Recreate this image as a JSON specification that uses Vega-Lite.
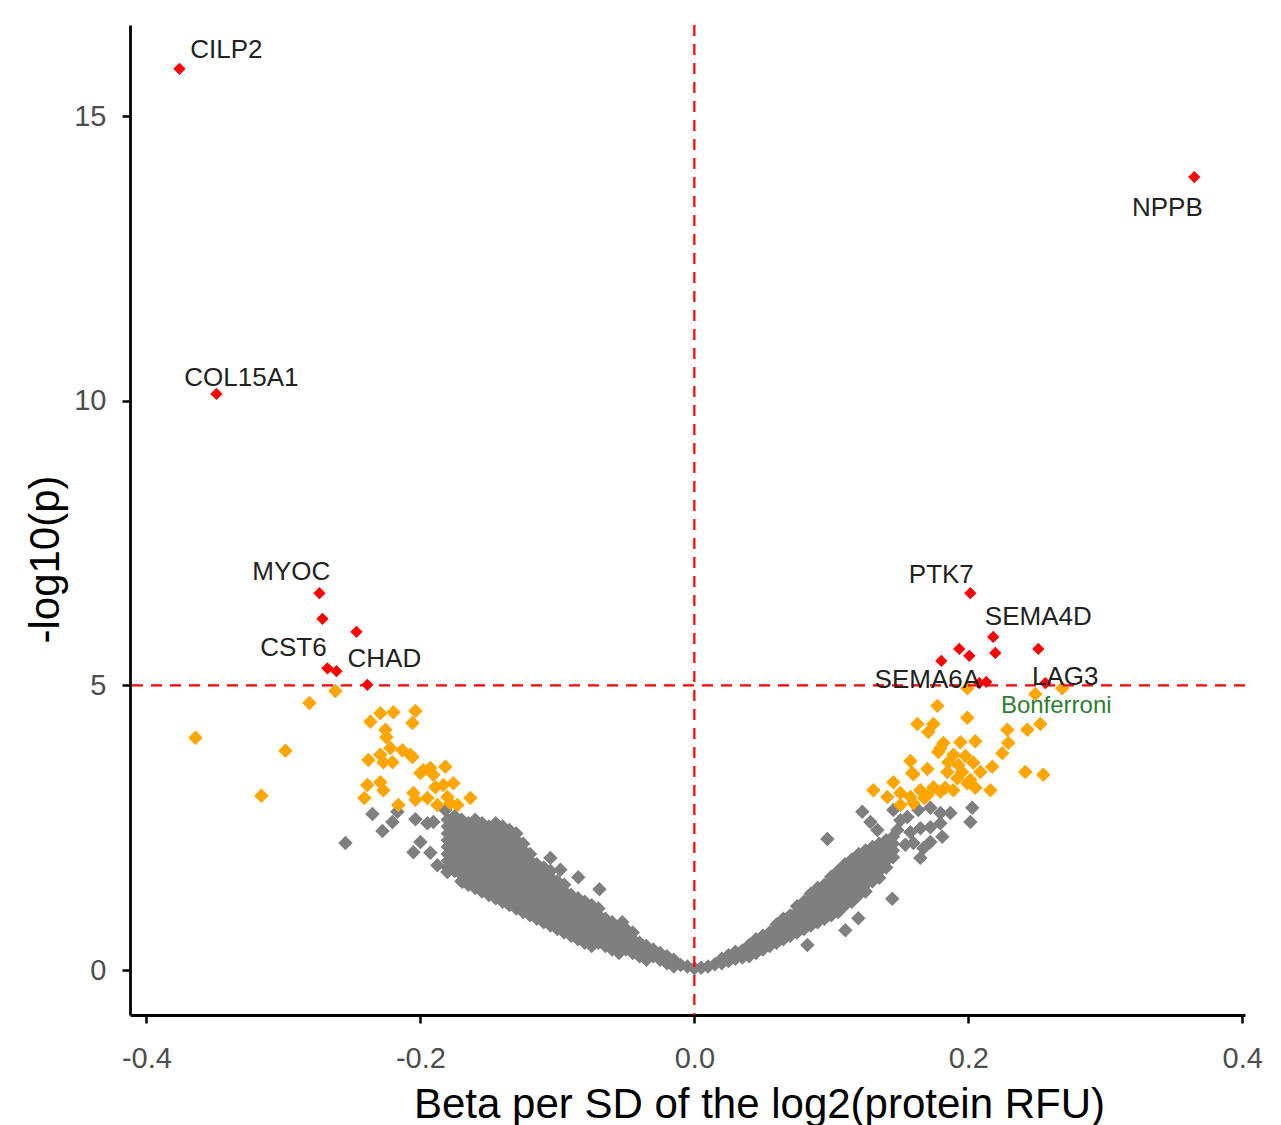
{
"$schema": "https://vega.github.io/schema/vega-lite/v6.json",
"width": 1115, "height": 990,
"autosize": {"type": "none"},
"padding": {"left": 130, "top": 25, "right": 36, "bottom": 110},
"background": "white",
"config": {
 "view": {"stroke": null},
 "font": "Liberation Sans",
 "axis": {"grid": false, "domainColor": "black", "domainWidth": 2.8, "tickColor": "black", "tickWidth": 2.5, "tickSize": 8, "labelColor": "#4d4d4d", "labelFontSize": 29, "labelFont": "Liberation Sans", "titleFont": "Liberation Sans", "titleFontSize": 42, "titleFontWeight": "normal", "titleColor": "black"},
 "axisX": {"labelPadding": 21, "titleX": 629, "titleY": 89, "titleAlign": "center", "titleBaseline": "middle"},
 "axisY": {"labelPadding": 16, "titleX": -85, "titleY": 534, "titleAlign": "center", "titleBaseline": "middle", "titleAngle": -90}
},
"datasets": {
 "grey": [
  {"b":-0.2547,"p":2.23},{"b":-0.235,"p":2.74},{"b":-0.2277,"p":2.44},{"b":-0.2204,"p":2.6},{"b":-0.2168,"p":2.78},{"b":-0.2036,"p":2.65},{"b":-0.2,"p":2.25},{"b":-0.2051,"p":2.07},{"b":-0.1927,"p":2.06},{"b":-0.1876,"p":1.84},{"b":-0.1803,"p":1.72},{"b":-0.1693,"p":1.55},{"b":-0.1949,"p":2.58},{"b":-0.1905,"p":2.6},{"b":-0.1818,"p":2.81},{"b":-0.1051,"p":1.97},{"b":-0.0978,"p":1.76},{"b":-0.0847,"p":1.63},{"b":-0.0693,"p":1.42},{"b":-0.0526,"p":0.84},
  {"b":-0.18,"p":1.8},{"b":-0.18,"p":1.92},{"b":-0.18,"p":2.04},{"b":-0.18,"p":2.16},{"b":-0.18,"p":2.28},{"b":-0.18,"p":2.4},{"b":-0.18,"p":2.52},{"b":-0.18,"p":2.64},
  {"b":-0.175,"p":1.74},{"b":-0.175,"p":1.86},{"b":-0.175,"p":1.98},{"b":-0.175,"p":2.1},{"b":-0.175,"p":2.22},{"b":-0.175,"p":2.34},{"b":-0.175,"p":2.46},{"b":-0.175,"p":2.58},{"b":-0.175,"p":2.7},
  {"b":-0.17,"p":1.56},{"b":-0.17,"p":1.68},{"b":-0.17,"p":1.8},{"b":-0.17,"p":1.92},{"b":-0.17,"p":2.04},{"b":-0.17,"p":2.16},{"b":-0.17,"p":2.28},{"b":-0.17,"p":2.4},{"b":-0.17,"p":2.52},{"b":-0.17,"p":2.64},
  {"b":-0.165,"p":1.5},{"b":-0.165,"p":1.62},{"b":-0.165,"p":1.74},{"b":-0.165,"p":1.86},{"b":-0.165,"p":1.98},{"b":-0.165,"p":2.1},{"b":-0.165,"p":2.22},{"b":-0.165,"p":2.34},{"b":-0.165,"p":2.46},{"b":-0.165,"p":2.58},
  {"b":-0.16,"p":1.44},{"b":-0.16,"p":1.56},{"b":-0.16,"p":1.68},{"b":-0.16,"p":1.8},{"b":-0.16,"p":1.92},{"b":-0.16,"p":2.04},{"b":-0.16,"p":2.16},{"b":-0.16,"p":2.28},{"b":-0.16,"p":2.4},{"b":-0.16,"p":2.52},{"b":-0.16,"p":2.64},
  {"b":-0.155,"p":1.38},{"b":-0.155,"p":1.5},{"b":-0.155,"p":1.62},{"b":-0.155,"p":1.74},{"b":-0.155,"p":1.86},{"b":-0.155,"p":1.98},{"b":-0.155,"p":2.1},{"b":-0.155,"p":2.22},{"b":-0.155,"p":2.34},{"b":-0.155,"p":2.46},{"b":-0.155,"p":2.58},
  {"b":-0.15,"p":1.32},{"b":-0.15,"p":1.44},{"b":-0.15,"p":1.56},{"b":-0.15,"p":1.68},{"b":-0.15,"p":1.8},{"b":-0.15,"p":1.92},{"b":-0.15,"p":2.04},{"b":-0.15,"p":2.16},{"b":-0.15,"p":2.28},{"b":-0.15,"p":2.4},{"b":-0.15,"p":2.52},
  {"b":-0.145,"p":1.26},{"b":-0.145,"p":1.38},{"b":-0.145,"p":1.5},{"b":-0.145,"p":1.62},{"b":-0.145,"p":1.74},{"b":-0.145,"p":1.86},{"b":-0.145,"p":1.98},{"b":-0.145,"p":2.1},{"b":-0.145,"p":2.22},{"b":-0.145,"p":2.34},{"b":-0.145,"p":2.46},{"b":-0.145,"p":2.58},
  {"b":-0.14,"p":1.2},{"b":-0.14,"p":1.32},{"b":-0.14,"p":1.44},{"b":-0.14,"p":1.56},{"b":-0.14,"p":1.68},{"b":-0.14,"p":1.8},{"b":-0.14,"p":1.92},{"b":-0.14,"p":2.04},{"b":-0.14,"p":2.16},{"b":-0.14,"p":2.28},{"b":-0.14,"p":2.4},{"b":-0.14,"p":2.52},
  {"b":-0.135,"p":1.14},{"b":-0.135,"p":1.26},{"b":-0.135,"p":1.38},{"b":-0.135,"p":1.5},{"b":-0.135,"p":1.62},{"b":-0.135,"p":1.74},{"b":-0.135,"p":1.86},{"b":-0.135,"p":1.98},{"b":-0.135,"p":2.1},{"b":-0.135,"p":2.22},{"b":-0.135,"p":2.34},{"b":-0.135,"p":2.46},
  {"b":-0.13,"p":1.08},{"b":-0.13,"p":1.2},{"b":-0.13,"p":1.32},{"b":-0.13,"p":1.44},{"b":-0.13,"p":1.56},{"b":-0.13,"p":1.68},{"b":-0.13,"p":1.8},{"b":-0.13,"p":1.92},{"b":-0.13,"p":2.04},{"b":-0.13,"p":2.16},{"b":-0.13,"p":2.28},{"b":-0.13,"p":2.4},
  {"b":-0.125,"p":1.02},{"b":-0.125,"p":1.14},{"b":-0.125,"p":1.26},{"b":-0.125,"p":1.38},{"b":-0.125,"p":1.5},{"b":-0.125,"p":1.62},{"b":-0.125,"p":1.74},{"b":-0.125,"p":1.86},{"b":-0.125,"p":1.98},{"b":-0.125,"p":2.1},{"b":-0.125,"p":2.22},
  {"b":-0.12,"p":0.96},{"b":-0.12,"p":1.08},{"b":-0.12,"p":1.2},{"b":-0.12,"p":1.32},{"b":-0.12,"p":1.44},{"b":-0.12,"p":1.56},{"b":-0.12,"p":1.68},{"b":-0.12,"p":1.8},{"b":-0.12,"p":1.92},{"b":-0.12,"p":2.04},
  {"b":-0.115,"p":0.9},{"b":-0.115,"p":1.02},{"b":-0.115,"p":1.14},{"b":-0.115,"p":1.26},{"b":-0.115,"p":1.38},{"b":-0.115,"p":1.5},{"b":-0.115,"p":1.62},{"b":-0.115,"p":1.74},{"b":-0.115,"p":1.86},
  {"b":-0.11,"p":0.84},{"b":-0.11,"p":0.96},{"b":-0.11,"p":1.08},{"b":-0.11,"p":1.2},{"b":-0.11,"p":1.32},{"b":-0.11,"p":1.44},{"b":-0.11,"p":1.56},{"b":-0.11,"p":1.68},{"b":-0.11,"p":1.8},
  {"b":-0.105,"p":0.78},{"b":-0.105,"p":0.9},{"b":-0.105,"p":1.02},{"b":-0.105,"p":1.14},{"b":-0.105,"p":1.26},{"b":-0.105,"p":1.38},{"b":-0.105,"p":1.5},{"b":-0.105,"p":1.62},{"b":-0.105,"p":1.74},
  {"b":-0.1,"p":0.72},{"b":-0.1,"p":0.84},{"b":-0.1,"p":0.96},{"b":-0.1,"p":1.08},{"b":-0.1,"p":1.2},{"b":-0.1,"p":1.32},{"b":-0.1,"p":1.44},{"b":-0.1,"p":1.56},
  {"b":-0.095,"p":0.66},{"b":-0.095,"p":0.78},{"b":-0.095,"p":0.9},{"b":-0.095,"p":1.02},{"b":-0.095,"p":1.14},{"b":-0.095,"p":1.26},{"b":-0.095,"p":1.38},{"b":-0.095,"p":1.5},
  {"b":-0.09,"p":0.6},{"b":-0.09,"p":0.72},{"b":-0.09,"p":0.84},{"b":-0.09,"p":0.96},{"b":-0.09,"p":1.08},{"b":-0.09,"p":1.2},{"b":-0.09,"p":1.32},
  {"b":-0.085,"p":0.54},{"b":-0.085,"p":0.66},{"b":-0.085,"p":0.78},{"b":-0.085,"p":0.9},{"b":-0.085,"p":1.02},{"b":-0.085,"p":1.14},{"b":-0.085,"p":1.26},
  {"b":-0.08,"p":0.48},{"b":-0.08,"p":0.6},{"b":-0.08,"p":0.72},{"b":-0.08,"p":0.84},{"b":-0.08,"p":0.96},{"b":-0.08,"p":1.08},{"b":-0.08,"p":1.2},
  {"b":-0.075,"p":0.42},{"b":-0.075,"p":0.54},{"b":-0.075,"p":0.66},{"b":-0.075,"p":0.78},{"b":-0.075,"p":0.9},{"b":-0.075,"p":1.02},{"b":-0.075,"p":1.14},
  {"b":-0.07,"p":0.48},{"b":-0.07,"p":0.6},{"b":-0.07,"p":0.72},{"b":-0.07,"p":0.84},{"b":-0.07,"p":0.96},{"b":-0.07,"p":1.08},
  {"b":-0.065,"p":0.42},{"b":-0.065,"p":0.54},{"b":-0.065,"p":0.66},{"b":-0.065,"p":0.78},{"b":-0.065,"p":0.9},
  {"b":-0.06,"p":0.36},{"b":-0.06,"p":0.48},{"b":-0.06,"p":0.6},{"b":-0.06,"p":0.72},{"b":-0.06,"p":0.84},
  {"b":-0.055,"p":0.3},{"b":-0.055,"p":0.42},{"b":-0.055,"p":0.54},{"b":-0.055,"p":0.66},{"b":-0.055,"p":0.78},
  {"b":-0.05,"p":0.36},{"b":-0.05,"p":0.48},{"b":-0.05,"p":0.6},{"b":-0.05,"p":0.72},
  {"b":-0.045,"p":0.3},{"b":-0.045,"p":0.42},{"b":-0.045,"p":0.54},{"b":-0.045,"p":0.66},
  {"b":-0.04,"p":0.24},{"b":-0.04,"p":0.36},{"b":-0.04,"p":0.48},
  {"b":-0.035,"p":0.18},{"b":-0.035,"p":0.3},{"b":-0.035,"p":0.42},
  {"b":-0.03,"p":0.24},{"b":-0.03,"p":0.36},
  {"b":-0.025,"p":0.18},{"b":-0.025,"p":0.3},
  {"b":-0.02,"p":0.12},{"b":-0.02,"p":0.24},
  {"b":-0.015,"p":0.06},{"b":-0.015,"p":0.18},
  {"b":-0.01,"p":0.09},{"b":-0.005,"p":0.06},{"b":0,"p":0.03},
  {"b":0.005,"p":0.04},{"b":0.01,"p":0.06},{"b":0.015,"p":0.1},
  {"b":0.02,"p":0.12},{"b":0.02,"p":0.2},
  {"b":0.025,"p":0.16},{"b":0.025,"p":0.26},
  {"b":0.03,"p":0.2},{"b":0.03,"p":0.32},
  {"b":0.035,"p":0.22},{"b":0.035,"p":0.34},
  {"b":0.04,"p":0.24},{"b":0.04,"p":0.36},{"b":0.04,"p":0.44},
  {"b":0.045,"p":0.3},{"b":0.045,"p":0.42},{"b":0.045,"p":0.54},
  {"b":0.05,"p":0.36},{"b":0.05,"p":0.48},{"b":0.05,"p":0.6},
  {"b":0.055,"p":0.42},{"b":0.055,"p":0.54},{"b":0.055,"p":0.66},
  {"b":0.06,"p":0.48},{"b":0.06,"p":0.6},{"b":0.06,"p":0.72},{"b":0.06,"p":0.8},
  {"b":0.065,"p":0.54},{"b":0.065,"p":0.66},{"b":0.065,"p":0.78},{"b":0.065,"p":0.9},
  {"b":0.07,"p":0.6},{"b":0.07,"p":0.72},{"b":0.07,"p":0.84},{"b":0.07,"p":0.96},
  {"b":0.075,"p":0.66},{"b":0.075,"p":0.78},{"b":0.075,"p":0.9},{"b":0.075,"p":1.02},{"b":0.075,"p":1.12},
  {"b":0.08,"p":0.72},{"b":0.08,"p":0.84},{"b":0.08,"p":0.96},{"b":0.08,"p":1.08},{"b":0.08,"p":1.2},
  {"b":0.085,"p":0.78},{"b":0.085,"p":0.9},{"b":0.085,"p":1.02},{"b":0.085,"p":1.14},{"b":0.085,"p":1.26},{"b":0.085,"p":1.34},
  {"b":0.09,"p":0.84},{"b":0.09,"p":0.96},{"b":0.09,"p":1.08},{"b":0.09,"p":1.2},{"b":0.09,"p":1.32},{"b":0.09,"p":1.44},
  {"b":0.095,"p":0.9},{"b":0.095,"p":1.02},{"b":0.095,"p":1.14},{"b":0.095,"p":1.26},{"b":0.095,"p":1.38},{"b":0.095,"p":1.5},
  {"b":0.1,"p":0.96},{"b":0.1,"p":1.08},{"b":0.1,"p":1.2},{"b":0.1,"p":1.32},{"b":0.1,"p":1.44},{"b":0.1,"p":1.56},{"b":0.1,"p":1.64},
  {"b":0.105,"p":1.02},{"b":0.105,"p":1.14},{"b":0.105,"p":1.26},{"b":0.105,"p":1.38},{"b":0.105,"p":1.5},{"b":0.105,"p":1.62},{"b":0.105,"p":1.74},
  {"b":0.11,"p":1.14},{"b":0.11,"p":1.26},{"b":0.11,"p":1.38},{"b":0.11,"p":1.5},{"b":0.11,"p":1.62},{"b":0.11,"p":1.74},{"b":0.11,"p":1.86},
  {"b":0.115,"p":1.2},{"b":0.115,"p":1.32},{"b":0.115,"p":1.44},{"b":0.115,"p":1.56},{"b":0.115,"p":1.68},{"b":0.115,"p":1.8},{"b":0.115,"p":1.94},
  {"b":0.12,"p":1.32},{"b":0.12,"p":1.44},{"b":0.12,"p":1.56},{"b":0.12,"p":1.68},{"b":0.12,"p":1.8},{"b":0.12,"p":1.92},{"b":0.12,"p":2.04},
  {"b":0.125,"p":1.38},{"b":0.125,"p":1.5},{"b":0.125,"p":1.62},{"b":0.125,"p":1.74},{"b":0.125,"p":1.86},{"b":0.125,"p":1.98},{"b":0.125,"p":2.1},
  {"b":0.13,"p":1.56},{"b":0.13,"p":1.68},{"b":0.13,"p":1.8},{"b":0.13,"p":1.92},{"b":0.13,"p":2.04},{"b":0.13,"p":2.16},
  {"b":0.135,"p":1.62},{"b":0.135,"p":1.74},{"b":0.135,"p":1.86},{"b":0.135,"p":1.98},{"b":0.135,"p":2.1},{"b":0.135,"p":2.22},
  {"b":0.14,"p":1.8},{"b":0.14,"p":1.92},{"b":0.14,"p":2.04},{"b":0.14,"p":2.16},{"b":0.14,"p":2.28},
  {"b":0.145,"p":1.98},{"b":0.145,"p":2.1},{"b":0.145,"p":2.22},{"b":0.145,"p":2.34},
  {"b":0.1226,"p":2.78},{"b":0.1285,"p":2.6},{"b":0.1453,"p":2.81},{"b":0.1555,"p":2.69},{"b":0.1635,"p":2.81},{"b":0.1723,"p":2.85},{"b":0.1796,"p":2.76},{"b":0.1869,"p":2.76},{"b":0.2029,"p":2.85},{"b":0.2015,"p":2.6},{"b":0.1482,"p":2.46},{"b":0.1577,"p":2.42},{"b":0.165,"p":2.49},{"b":0.1723,"p":2.51},{"b":0.1796,"p":2.58},{"b":0.1599,"p":2.23},{"b":0.1723,"p":2.25},{"b":0.181,"p":2.34},{"b":0.1672,"p":2.14},{"b":0.165,"p":1.97},{"b":0.1336,"p":2.46},{"b":0.1504,"p":2.63},{"b":0.154,"p":2.2},{"b":0.1445,"p":1.25},{"b":0.1197,"p":0.91},{"b":0.1102,"p":0.7},{"b":0.0825,"p":0.44},{"b":0.0971,"p":2.3}
 ],
 "orange": [
  {"b":-0.3642,"p":4.08},{"b":-0.2985,"p":3.85},{"b":-0.3161,"p":3.06},{"b":-0.281,"p":4.69},{"b":-0.262,"p":4.9},
  {"b":-0.2365,"p":4.36},{"b":-0.2292,"p":4.51},{"b":-0.2197,"p":4.53},{"b":-0.2036,"p":4.55},{"b":-0.2058,"p":4.34},{"b":-0.2255,"p":4.22},{"b":-0.2248,"p":4.09},{"b":-0.2219,"p":3.9},{"b":-0.2131,"p":3.86},{"b":-0.2073,"p":3.78},{"b":-0.2292,"p":3.78},{"b":-0.238,"p":3.69},{"b":-0.227,"p":3.65},{"b":-0.2204,"p":3.65},{"b":-0.1978,"p":3.51},{"b":-0.1927,"p":3.55},{"b":-0.1818,"p":3.57},{"b":-0.2,"p":3.46},{"b":-0.1905,"p":3.43},{"b":-0.2387,"p":3.25},{"b":-0.2292,"p":3.3},{"b":-0.227,"p":3.16},{"b":-0.1759,"p":3.28},{"b":-0.1891,"p":3.21},{"b":-0.1832,"p":3.25},{"b":-0.2409,"p":3.02},{"b":-0.2051,"p":3.11},{"b":-0.2036,"p":2.99},{"b":-0.1949,"p":3.02},{"b":-0.1803,"p":3.04},{"b":-0.1781,"p":2.93},{"b":-0.1635,"p":3.02},{"b":-0.1876,"p":2.9},{"b":-0.173,"p":2.9},{"b":-0.2161,"p":2.9},{"b":-0.2058,"p":3.74},
  {"b":0.1993,"p":4.95},{"b":0.1774,"p":4.64},{"b":0.1993,"p":4.43},{"b":0.1628,"p":4.32},{"b":0.1745,"p":4.32},{"b":0.1708,"p":4.18},{"b":0.2285,"p":4.22},{"b":0.2431,"p":4.22},{"b":0.2526,"p":4.32},{"b":0.2489,"p":4.85},{"b":0.2686,"p":4.95},{"b":0.1818,"p":3.99},{"b":0.1942,"p":4.0},{"b":0.2051,"p":4.02},{"b":0.2292,"p":3.99},{"b":0.1781,"p":3.83},{"b":0.1891,"p":3.78},{"b":0.1978,"p":3.76},{"b":0.2248,"p":3.81},{"b":0.1577,"p":3.67},{"b":0.1854,"p":3.65},{"b":0.2036,"p":3.64},{"b":0.1701,"p":3.53},{"b":0.1599,"p":3.44},{"b":0.1847,"p":3.48},{"b":0.2088,"p":3.48},{"b":0.2175,"p":3.57},{"b":0.2416,"p":3.48},{"b":0.2547,"p":3.43},{"b":0.192,"p":3.37},{"b":0.1993,"p":3.28},{"b":0.1307,"p":3.16},{"b":0.1453,"p":3.3},{"b":0.1409,"p":3.04},{"b":0.1504,"p":3.11},{"b":0.1577,"p":3.04},{"b":0.165,"p":3.16},{"b":0.1745,"p":3.21},{"b":0.1832,"p":3.2},{"b":0.1891,"p":3.16},{"b":0.2051,"p":3.2},{"b":0.2161,"p":3.16},{"b":0.1504,"p":2.9},{"b":0.1599,"p":2.93},{"b":0.1591,"p":3.46},{"b":0.1679,"p":3.02},{"b":0.1796,"p":3.9},{"b":0.1927,"p":3.6},{"b":0.1956,"p":3.48},{"b":0.2015,"p":3.34},{"b":0.1701,"p":3.07},{"b":0.1796,"p":3.13}
 ],
 "red": [
  {"b":-0.3759,"p":15.83},{"b":-0.3489,"p":10.12},{"b":0.365,"p":13.93},{"b":-0.2737,"p":6.62},{"b":-0.2715,"p":6.17},{"b":-0.2467,"p":5.94},{"b":-0.2679,"p":5.3},{"b":-0.2613,"p":5.25},{"b":-0.2387,"p":5.01},
  {"b":0.2015,"p":6.62},{"b":0.2182,"p":5.85},{"b":0.2197,"p":5.57},{"b":0.1934,"p":5.64},{"b":0.2007,"p":5.52},{"b":0.1803,"p":5.43},{"b":0.2511,"p":5.64},{"b":0.208,"p":5.04},{"b":0.2131,"p":5.06},{"b":0.2562,"p":5.04}
 ],
 "labels": [
  {"b":-0.3416,"p":16.16,"t":"CILP2"},{"b":-0.3307,"p":10.4,"t":"COL15A1"},{"b":0.3453,"p":13.38,"t":"NPPB"},{"b":-0.2942,"p":6.99,"t":"MYOC"},{"b":-0.2927,"p":5.66,"t":"CST6"},{"b":-0.2263,"p":5.46,"t":"CHAD"},{"b":0.1803,"p":6.94,"t":"PTK7"},{"b":0.2511,"p":6.2,"t":"SEMA4D"},{"b":0.1701,"p":5.09,"t":"SEMA6A"},{"b":0.2708,"p":5.15,"t":"LAG3"}
 ],
 "bonf": [{"b":0.2642,"p":4.63,"t":"Bonferroni"}],
 "vline": [{"b":0}],
 "hline": [{"p":5}]
},
"layer": [
 {"data": {"name": "grey"}, "mark": {"type": "point", "shape": "diamond", "filled": true, "size": 210, "color": "#7f7f7f", "opacity": 1},
  "encoding": {
   "x": {"field": "b", "type": "quantitative", "title": "Beta per SD of the log2(protein RFU)", "scale": {"domain": [-0.412, 0.402], "nice": false, "zero": false}, "axis": {"values": [-0.4, -0.2, 0, 0.2, 0.4], "format": ".1f", "labelExpr": "replace(datum.label, '\u2212', '-')"}},
   "y": {"field": "p", "type": "quantitative", "title": "-log10(p)", "scale": {"domain": [-0.79, 16.6], "nice": false, "zero": false}, "axis": {"values": [0, 5, 10, 15], "format": "d"}}
  }},
 {"data": {"name": "orange"}, "mark": {"type": "point", "shape": "diamond", "filled": true, "size": 210, "color": "#ffa500", "opacity": 1},
  "encoding": {"x": {"field": "b", "type": "quantitative", "title": "Beta per SD of the log2(protein RFU)"}, "y": {"field": "p", "type": "quantitative", "title": "-log10(p)"}}},
 {"data": {"name": "vline"}, "mark": {"type": "rule", "color": "#ff0000", "strokeWidth": 2.2, "strokeDash": [11, 8]},
  "encoding": {"x": {"field": "b", "type": "quantitative", "title": "Beta per SD of the log2(protein RFU)"}}},
 {"data": {"name": "hline"}, "mark": {"type": "rule", "color": "#ff0000", "strokeWidth": 2.2, "strokeDash": [11, 8]},
  "encoding": {"y": {"field": "p", "type": "quantitative", "title": "-log10(p)"}}},
 {"data": {"name": "red"}, "mark": {"type": "point", "shape": "diamond", "filled": true, "size": 150, "color": "#ff0000", "opacity": 1},
  "encoding": {"x": {"field": "b", "type": "quantitative", "title": "Beta per SD of the log2(protein RFU)"}, "y": {"field": "p", "type": "quantitative", "title": "-log10(p)"}}},
 {"data": {"name": "labels"}, "mark": {"type": "text", "font": "Liberation Sans", "fontSize": 26, "color": "#222222", "align": "center", "baseline": "middle"},
  "encoding": {"x": {"field": "b", "type": "quantitative", "title": "Beta per SD of the log2(protein RFU)"}, "y": {"field": "p", "type": "quantitative", "title": "-log10(p)"}, "text": {"field": "t"}}},
 {"data": {"name": "bonf"}, "mark": {"type": "text", "font": "Liberation Sans", "fontSize": 24, "color": "#2e7d32", "align": "center", "baseline": "middle"},
  "encoding": {"x": {"field": "b", "type": "quantitative", "title": "Beta per SD of the log2(protein RFU)"}, "y": {"field": "p", "type": "quantitative", "title": "-log10(p)"}, "text": {"field": "t"}}}
]
}
